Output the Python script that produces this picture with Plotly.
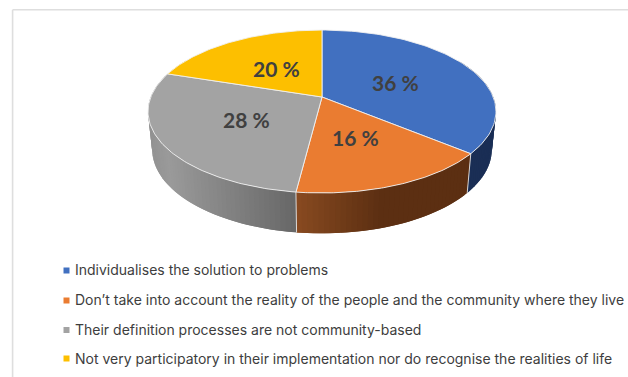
import numpy as np
import plotly.graph_objects as go

# Survey results
categories = [
    "Individualises the solution to problems",
    "Don’t take into account the reality of the people and the community where they live",
    "Their definition processes are not community-based",
    "Not very participatory in their implementation nor do recognise the realities of life",
]
values = [36, 16, 28, 20]
value_labels = ["36 %", "16 %", "28 %", "20 %"]

# Slice styling
top_colors = ["#4170C0", "#EA7C31", "#A3A3A3", "#FDBF00"]
wall_left = [(26, 46, 85), (136, 74, 32), (154, 154, 154), (255, 192, 0)]
wall_right = [(26, 46, 85), (92, 47, 18), (96, 96, 96), (255, 192, 0)]
wall_fade_span = [1, 85, 146, 1]

# Perspective disc: apex position, half-extents, foreshortening and wall depth
CX, CY = 322.0, 97.0
RX, RY, PERSP = 171.2, 78.9, 0.178
WALL_SHIFT, WALL_STRETCH, WALL_SHRINK = 37.5, 1.03, 0.976


def project(theta, lower=False):
    """Map a clockwise angle on the disc (degrees from 12 o'clock) to the canvas."""
    t = np.radians(theta)
    x, y = np.sin(t), -np.cos(t)
    d = 1 - PERSP * y
    px, py = RX * x / d, RY * y / d
    if lower:
        return CX + px * WALL_SHRINK, CY + py * WALL_STRETCH + WALL_SHIFT
    return CX + px, CY + py


fig = go.Figure()
edges = np.concatenate([[0], np.cumsum(values)]) / sum(values) * 360

# Side walls as overlapping strips, shaded from each slice's left end rightwards
for i, (a0, a1) in enumerate(zip(edges[:-1], edges[1:])):
    lo, hi = max(a0, 60), min(a1, 300)
    if lo >= hi:
        continue
    steps = np.linspace(lo, hi, max(int((hi - lo) / 1.5), 2))
    left_x = project(hi)[0]
    for k in range(len(steps) - 1):
        s0, s1 = steps[k], min(steps[k] + 2 * (steps[1] - steps[0]), hi)
        arc = np.linspace(s0, s1, 3)
        xu, yu = project(arc)
        xl, yl = project(arc[::-1], True)
        mid = project((steps[k] + steps[k + 1]) / 2)[0]
        f = min(abs(mid - left_x) / wall_fade_span[i], 1)
        rgb = [round(l + (r - l) * f) for l, r in zip(wall_left[i], wall_right[i])]
        fig.add_trace(go.Scatter(
            x=np.concatenate([xu, xl, xu[:1]]), y=np.concatenate([yu, yl, yu[:1]]),
            mode="lines", fill="toself", fillcolor=f"rgb({rgb[0]},{rgb[1]},{rgb[2]})",
            line=dict(width=0), hoverinfo="skip", showlegend=False))

# Pale seams where the wall segments meet at the front
for a in (edges[1], edges[2]):
    xa, ya = project(a)
    xb, yb = project(a, True)
    fig.add_trace(go.Scatter(x=[xa, xb], y=[ya, yb], mode="lines",
                             line=dict(color="rgba(235,235,235,0.85)", width=1),
                             hoverinfo="skip", showlegend=False))

# Top faces of the slices
for i, (a0, a1) in enumerate(zip(edges[:-1], edges[1:])):
    arc = np.linspace(a0, a1, 90)
    xs, ys = project(arc)
    fig.add_trace(go.Scatter(
        x=np.concatenate([[CX], xs, [CX]]), y=np.concatenate([[CY], ys, [CY]]),
        mode="lines", fill="toself", fillcolor=top_colors[i],
        line=dict(color="rgba(240,240,240,0.9)", width=1),
        name=categories[i], hoverinfo="skip", showlegend=False))

# Legend rows: square swatch plus label
legend_y = [270.5, 300.5, 330, 358.5]
legend_text_y = [269.5, 299.5, 329, 358]
fig.add_trace(go.Scatter(
    x=[66.5] * 4, y=legend_y, mode="markers",
    marker=dict(symbol="square", size=6, color=top_colors),
    hoverinfo="skip", showlegend=False))

annotations = []
for name, y in zip(categories, legend_text_y):
    annotations.append(dict(x=73, y=y, text=name, showarrow=False, xanchor="left",
                            yanchor="middle",
                            font=dict(family="Inter", size=14, color="#3d3d3d")))

# Percentage labels on the slices
label_pos = [(395, 82), (355, 137.5), (246, 119), (276, 68)]
for text, (x, y) in zip(value_labels, label_pos):
    annotations.append(dict(x=x, y=y, text=f"<b>{text}</b>", showarrow=False,
                            font=dict(family="Lato", size=21, color="#404040")))

# Chart-area frame, open towards the right and bottom
frame = dict(type="line", line=dict(color="#dedede", width=1.6), layer="below")
shapes = [
    dict(frame, x0=12.6, x1=628, y0=9.8, y1=9.8),
    dict(frame, x0=12.6, x1=12.6, y0=9.8, y1=377),
]

fig.update_layout(
    width=628, height=377, margin=dict(l=0, r=0, t=0, b=0),
    paper_bgcolor="white", plot_bgcolor="white", showlegend=False,
    xaxis=dict(range=[0, 628], visible=False, fixedrange=True),
    yaxis=dict(range=[377, 0], visible=False, fixedrange=True),
    annotations=annotations, shapes=shapes,
)

fig.write_html("out.html", config=dict(displayModeBar=False))
